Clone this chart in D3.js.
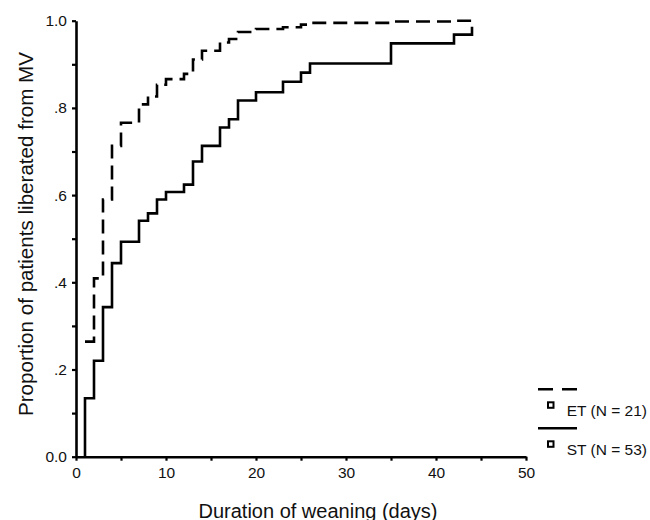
<!DOCTYPE html>
<html>
<head>
<meta charset="utf-8">
<script src="https://cdn.jsdelivr.net/npm/d3@7"></script>
<style>
  body { margin: 0; background: #fff; }
  svg { display: block; font-family: "Liberation Sans", Arial, sans-serif; }
</style>
</head>
<body>
<svg id="chart" width="650" height="520"></svg>
<script>
// step times (days) shared by both curves
const weaningDays = [1, 2, 3, 4, 5, 7, 8, 9, 10, 12, 13, 14, 16, 17, 18, 20, 23, 25, 26, 35, 42, 44];
const etProportion = [0.264, 0.409, 0.59, 0.713, 0.766, 0.808, 0.826, 0.853, 0.866, 0.878, 0.911, 0.931,
  0.95, 0.958, 0.974, 0.981, 0.985, 0.991, 0.995, 0.998, 1.0, 1.0];
const stProportion = [0.134, 0.22, 0.343, 0.444, 0.493, 0.541, 0.558, 0.59, 0.607, 0.624, 0.677, 0.713,
  0.755, 0.774, 0.817, 0.836, 0.86, 0.881, 0.902, 0.948, 0.968, 0.986];
const stStart = 0;
const xTicks = [0, 5, 10, 15, 20, 25, 30, 35, 40, 45, 50];
const xTickLabels = ["0", "", "10", "", "20", "", "30", "", "40", "", "50"];
const yTicks = [0, 0.1, 0.2, 0.3, 0.4, 0.5, 0.6, 0.7, 0.8, 0.9, 1.0];
const yTickLabels = ["0.0", "", ".2", "", ".4", "", ".6", "", ".8", "", "1.0"];
const legendLabels = ["ET (N = 21)", "ST (N = 53)"];

const svg = d3.select("#chart");

const x = d3.scaleLinear().domain([0, 50]).range([76, 526]);
const y = d3.scaleLinear().domain([0, 1]).range([456.7, 20.7]);

const line = d3
  .line()
  .x((d) => x(d[0]))
  .y((d) => y(d[1]))
  .curve(d3.curveStepAfter);

const etPoints = weaningDays.map((d, i) => [d, etProportion[i]]);
const stPoints = [[weaningDays[0], stStart]].concat(weaningDays.map((d, i) => [d, stProportion[i]]));

// curves
svg
  .append("path")
  .attr("fill", "none")
  .attr("stroke", "#000")
  .attr("stroke-width", 2.6)
  .attr("d", line(stPoints));

svg
  .append("path")
  .attr("fill", "none")
  .attr("stroke", "#000")
  .attr("stroke-width", 2.6)
  .attr("stroke-dasharray", "14,7")
  .attr("d", line(etPoints));

// x-axis
svg
  .append("g")
  .attr("transform", `translate(0, ${y(0)})`)
  .call(
    d3.axisBottom(x)
      .tickValues(xTicks)
      .tickSize(4)
      .tickSizeOuter(0)
      .tickPadding(6)
      .tickFormat((d, i) => xTickLabels[i])
  )
  .call((g) => {
    g.select(".domain").attr("stroke-width", 2.6);
    g.selectAll(".tick line").attr("stroke-width", 2.2);
    g.selectAll(".tick text").style("font-size", "15.5px").attr("fill", "#111");
  });

// y-axis
svg
  .append("g")
  .attr("transform", `translate(${x(0)}, 0)`)
  .call(
    d3.axisLeft(y)
      .tickValues(yTicks)
      .tickSize(4)
      .tickSizeOuter(0)
      .tickPadding(5)
      .tickFormat((d, i) => yTickLabels[i])
  )
  .call((g) => {
    g.select(".domain").attr("stroke-width", 2.6);
    g.selectAll(".tick line").attr("stroke-width", 2.2);
    g.selectAll(".tick text").style("font-size", "15.5px").attr("fill", "#111");
  });

// axis titles
svg
  .append("text")
  .attr("x", 318)
  .attr("y", 517.5)
  .attr("text-anchor", "middle")
  .style("font-size", "20px")
  .attr("fill", "#111")
  .text("Duration of weaning (days)");

svg
  .append("text")
  .attr("transform", "translate(32.5, 234) rotate(-90)")
  .attr("text-anchor", "middle")
  .style("font-size", "20.6px")
  .attr("fill", "#111")
  .text("Proportion of patients liberated from MV");

// legend
const legend = svg
  .selectAll(".legend-item")
  .data(legendLabels)
  .enter()
  .append("g")
  .attr("class", "legend-item")
  .attr("transform", (d, i) => `translate(538, ${389.3 + i * 39})`);

legend
  .append("line")
  .attr("x1", 0)
  .attr("x2", 39)
  .attr("stroke", "#000")
  .attr("stroke-width", 2.6)
  .attr("stroke-dasharray", (d, i) => (i === 0 ? "15,9" : null));

legend
  .append("rect")
  .attr("x", 10)
  .attr("y", 13)
  .attr("width", 5.5)
  .attr("height", 5.5)
  .attr("fill", "#fff")
  .attr("stroke", "#000")
  .attr("stroke-width", 2);

legend
  .append("text")
  .attr("x", 28.7)
  .attr("y", 26.5)
  .style("font-size", "15.5px")
  .attr("fill", "#111")
  .text((d) => d);
</script>
</body>
</html>
